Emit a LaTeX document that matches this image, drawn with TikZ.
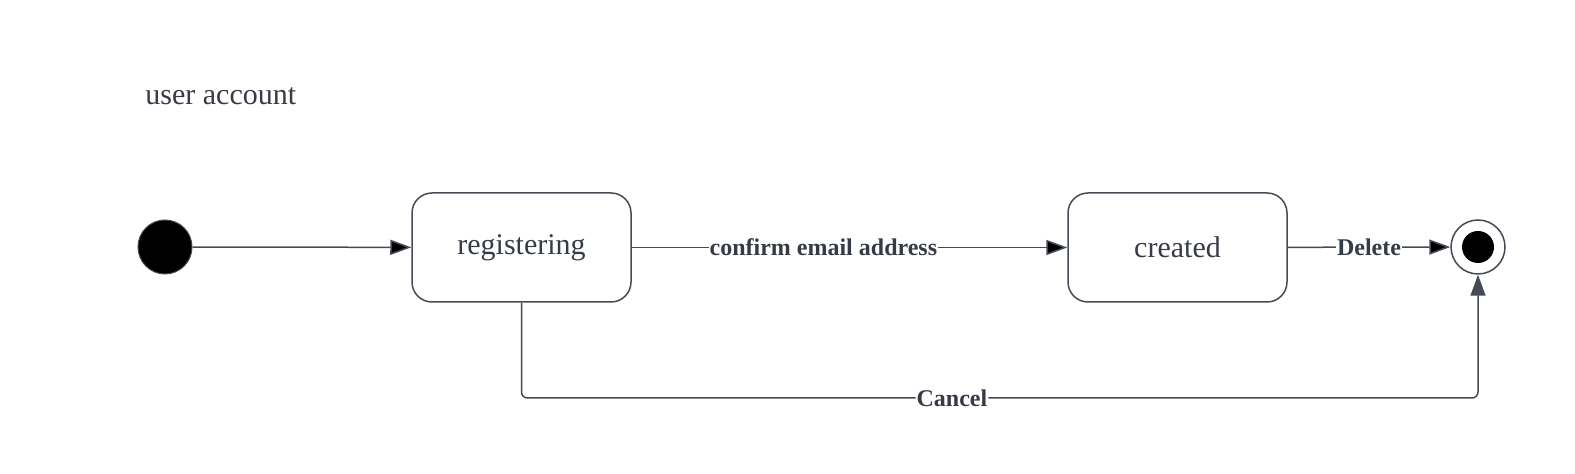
\documentclass[tikz,border=0pt]{standalone}
\usepackage{fontspec}
\setmainfont{Liberation Serif}
\usetikzlibrary{arrows.meta}
\definecolor{umlline}{HTML}{454A55}
\definecolor{umltext}{HTML}{363B46}
\begin{document}
\begin{tikzpicture}[x=0.5pt, y=-0.5pt,
	>={Triangle[length=10.5pt,width=7.5pt]},
	state/.style={draw=umlline, line width=0.75pt, rounded corners=10pt, minimum width=109.5pt, minimum height=54.5pt, inner sep=0pt, font=\fontsize{15}{18}\selectfont, text=umltext},
	lbl/.style={fill=white, inner sep=0.5pt, font=\fontsize{12}{14}\selectfont\bfseries, text=umltext}]
			\useasboundingbox (0,0) rectangle (1575,474);
			\node[anchor=base west, inner sep=0pt, font=\fontsize{15}{18}\selectfont, text=umltext] (title) at (145,105) {user account};
			\node[circle, fill=black, draw=umlline, line width=0.5pt, minimum size=27pt, inner sep=0pt] (start) at (165,247) {};
			\node[state] (reg) at (521.5,247.5) {registering};
			\node[state] (cre) at (1177.5,247.5) {created};
			\node[circle, draw=umlline, line width=0.75pt, fill=white, minimum size=27pt, inner sep=0pt] (stop) at (1478,247) {};
			\node[circle, fill=black, minimum size=16pt, inner sep=0pt] (stopdot) at (stop) {};
			\coordinate (turn) at (521.5,398);
			\path[->, draw=umlline, line width=0.75pt]
			(start) edge (reg)
			(reg) edge node[lbl, pos=0.44]{confirm email address} (cre)
			(cre) edge node[lbl, pos=0.5]{Delete} (stop);
			\draw[->, umlline, line width=0.75pt, rounded corners=3pt] (reg.south) -- (turn) -- node[lbl, pos=0.45]{Cancel} (turn -| stop) -- (stop.south);
		\end{tikzpicture}
\end{document}
